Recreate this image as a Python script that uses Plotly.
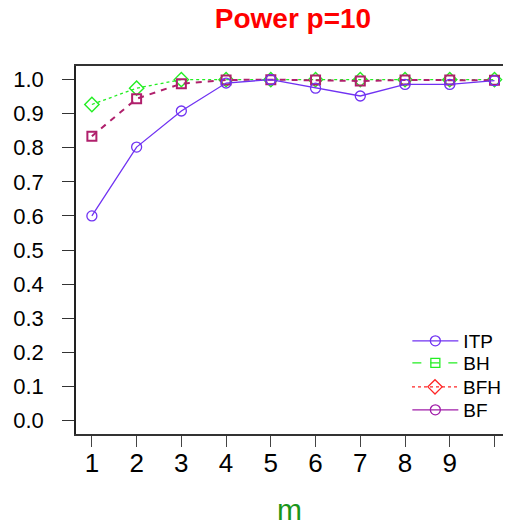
import plotly.graph_objects as go

m = [1, 2, 3, 4, 5, 6, 7, 8, 9, 10]
itp = [0.600, 0.802, 0.908, 0.990, 1.000, 0.975, 0.952, 0.986, 0.986, 0.997]
bh = [0.927, 0.975, 1.000, 1.000, 1.000, 1.000, 1.000, 1.000, 1.000, 1.000]
bfh = [0.834, 0.944, 0.988, 0.999, 1.000, 0.999, 0.996, 0.999, 0.999, 0.998]
x_ticks = [1, 2, 3, 4, 5, 6, 7, 8, 9, 10]
x_labels = ["1", "2", "3", "4", "5", "6", "7", "8", "9", ""]
y_ticks = [0.0, 0.1, 0.2, 0.3, 0.4, 0.5, 0.6, 0.7, 0.8, 0.9, 1.0]
legend_names = ["ITP", "BH", "BFH", "BF"]

C_ITP = "#7032F2"
C_GREEN = "#22EE22"
C_RED = "#FF2626"
C_BF = "#A01CA8"
C_SQ = "#B0206C"
FONT = "Liberation Sans, Arial, sans-serif"

fig = go.Figure()
fig.add_trace(go.Scatter(x=m, y=bh, mode="lines+markers", showlegend=False,
                         line=dict(color=C_GREEN, width=1.3, dash="dot"),
                         marker=dict(symbol="diamond-open", size=11, color=C_GREEN, line=dict(width=1.4))))
fig.add_trace(go.Scatter(x=m, y=bfh, mode="lines+markers", showlegend=False,
                         line=dict(color=C_SQ, width=2, dash="6px,6px"),
                         marker=dict(symbol="square-open", size=9, color=C_SQ, line=dict(width=2))))
fig.add_trace(go.Scatter(x=m, y=itp, mode="lines+markers", showlegend=False,
                         line=dict(color=C_ITP, width=1.3),
                         marker=dict(symbol="circle-open", size=10, color=C_ITP, line=dict(width=1.3))))

leg_styles = [
    (C_ITP, "solid", "circle-open", 10),
    (C_GREEN, "dash", "square-open", 9),
    (C_RED, "dot", "diamond-open", 11),
    (C_BF, "solid", "circle-open", 10),
]
leg_ids = ["legend", "legend2", "legend3", "legend4"]
leg_y = [0.2527, 0.1929, 0.1277, 0.0652]
for name, (col, dash, sym, sz), lid in zip(legend_names, leg_styles, leg_ids):
    fig.add_trace(go.Scatter(x=[None], y=[None], mode="lines+markers", name=name, legend=lid,
                             line=dict(color=col, width=1.3, dash=dash),
                             marker=dict(symbol=sym, size=sz, color=col, line=dict(width=1.3))))

leg_common = dict(x=0.776, xanchor="left", yanchor="middle", bgcolor="rgba(0,0,0,0)",
                  font=dict(size=19, family=FONT), itemwidth=46)

fig.update_layout(
    width=506, height=526,
    margin=dict(l=76, r=0, t=66, b=92),
    paper_bgcolor="white", plot_bgcolor="white",
    font=dict(family=FONT, color="black"),
    title=dict(text="<b>Power p=10</b>", x=0.579, xanchor="center", y=0.965, yanchor="middle",
               font=dict(size=28, color="#FF0000", family=FONT)),
    showlegend=True,
    legend=dict(y=leg_y[0], **leg_common),
    legend2=dict(y=leg_y[1], **leg_common),
    legend3=dict(y=leg_y[2], **leg_common),
    legend4=dict(y=leg_y[3], **leg_common),
    xaxis=dict(range=[0.645, 10.19], tickvals=x_ticks, ticktext=x_labels,
               showgrid=False, zeroline=False, showline=True, linecolor="#333", linewidth=1.5,
               mirror=True, ticks="outside", ticklen=11, tickwidth=1.3, tickcolor="#444",
               tickfont=dict(size=26, family=FONT), ticklabelstandoff=-6,
               title=dict(text="m", font=dict(size=30, color="#1A961A", family=FONT), standoff=24)),
    yaxis=dict(range=[-0.04, 1.04], tickvals=y_ticks, tickformat=".1f",
               showgrid=False, zeroline=False, showline=True, linecolor="#222", linewidth=1.5,
               ticks="outside", ticklen=12, tickwidth=1.3, tickcolor="#333",
               tickfont=dict(size=22, family=FONT), ticklabelstandoff=14),
)

fig.write_html("out.html")
